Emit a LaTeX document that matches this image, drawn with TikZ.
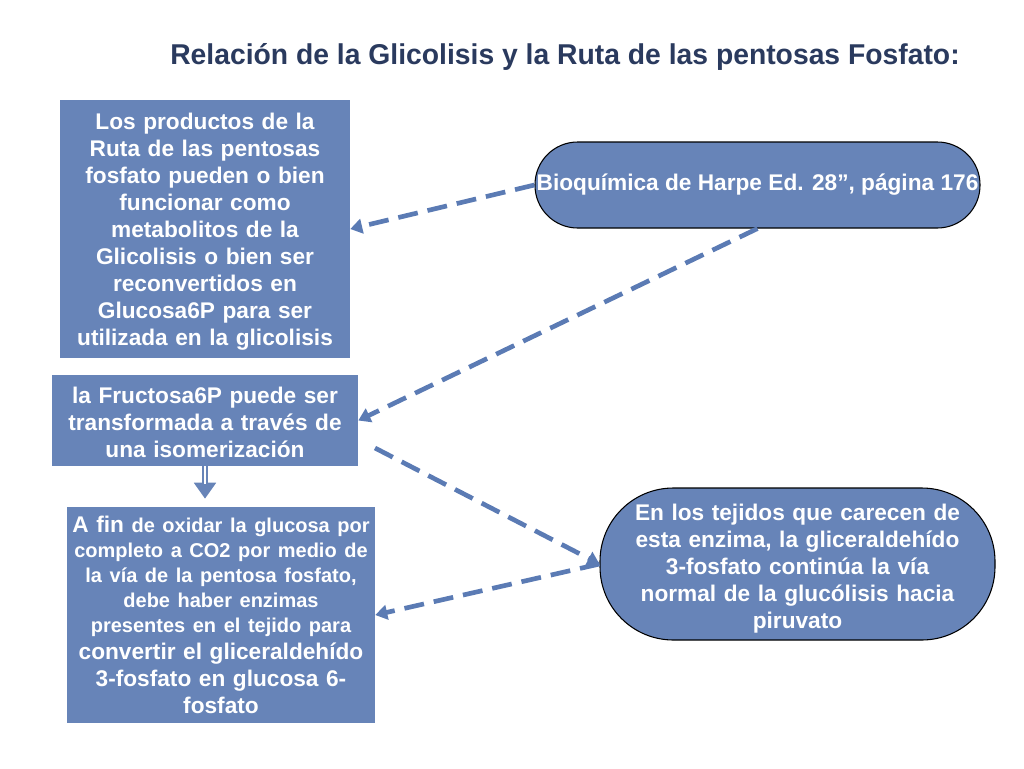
\documentclass[tikz,border=0pt]{standalone}
\usepackage{fontspec}
\setmainfont{Liberation Sans}
\usetikzlibrary{arrows.meta}
\definecolor{boxblue}{HTML}{6784B8}
\definecolor{arrowblue}{HTML}{5B7BB4}
\definecolor{titlenavy}{HTML}{2A3A5E}
\def\bigtxt{\fontsize{17}{20.25}\selectfont}
\def\smalltxt{\fontsize{15}{18.75}\selectfont}

\begin{document}
\begin{tikzpicture}[x=0.75pt,y=-0.75pt,
  box/.style={fill=boxblue, text=white, font=\bfseries\bigtxt, align=center, inner sep=0pt},
  pill/.style={box, draw=black, line width=0.8pt, rounded corners=#1},
  dasharrow/.style={draw=arrowblue, line width=3.5pt, dash pattern=on 15pt off 7.5pt,
    -{Triangle[width=11pt,length=9pt]}}]
  \useasboundingbox (0,0) rectangle (1024,768);
  \node[font=\bfseries, text=titlenavy, inner sep=0pt] (title) at (565,57)
    {\resizebox{592pt}{\height}{\fontsize{21.5}{25}\selectfont Relación de la Glicolisis y la Ruta de las pentosas Fosfato:}};

  % left column
  \node[box, minimum width=217.5pt, minimum height=193.5pt, text width=214pt] (prod) at (205,229)
    {\rule{0pt}{16pt}Los productos de la\\ Ruta de las pentosas\\ fosfato pueden o bien\\ funcionar como\\ metabolitos de la\\
     Glicolisis o bien ser\\ reconvertidos en\\ Glucosa6P para ser\\ utilizada en la glicolisis};
  \node[box, minimum width=229.5pt, minimum height=68.25pt, text width=226pt] (fruc) at (205,420.5)
    {\rule{0pt}{15pt}la Fructosa6P puede ser\\ transformada a través de\\ una isomerización};
  \node[box, minimum width=231pt, minimum height=162pt, text width=228pt] (afin) at (221,615)
    {\bigtxt A fin \smalltxt de oxidar la glucosa por\\ completo a CO2 por medio de\\ la vía de la pentosa fosfato,\\
     debe haber enzimas\\ presentes en el tejido para\par
     \bigtxt convertir el gliceraldehído\\ 3-fosfato en glucosa 6-\\ fosfato};

  % right column
  \node[pill=32pt, minimum width=333.75pt, minimum height=64.5pt] (harper) at (757.5,185)
    {Bioquímica de Harpe Ed. 28”, página 176};
  \node[pill=55pt, minimum width=296.25pt, minimum height=114pt, text width=290pt] (tejidos) at (797.5,564)
    {\rule{0pt}{20pt}En los tejidos que carecen de\\ esta enzima, la gliceraldehído\\ 3-fosfato continúa la vía\\
     normal de la glucólisis hacia\\ piruvato};

  \coordinate (frucout) at (375,448);

  % double shaft with solid head
  \draw[boxblue, line width=5pt, shorten >=6pt, -{Triangle[width=16pt,length=12pt]}]
    (fruc.south) -- (fruc.south |- afin.north);
  \draw[white, line width=1.2pt] (fruc.south) -- ++(0,18);
  \draw[dasharrow] (harper.west) -- (prod.east);
  \draw[dasharrow] (harper.south) -- (fruc.east);
  \draw[dasharrow] (frucout) -- (tejidos.west);
  \draw[dasharrow] (tejidos.west) -- (afin.east);
\end{tikzpicture}
\end{document}
